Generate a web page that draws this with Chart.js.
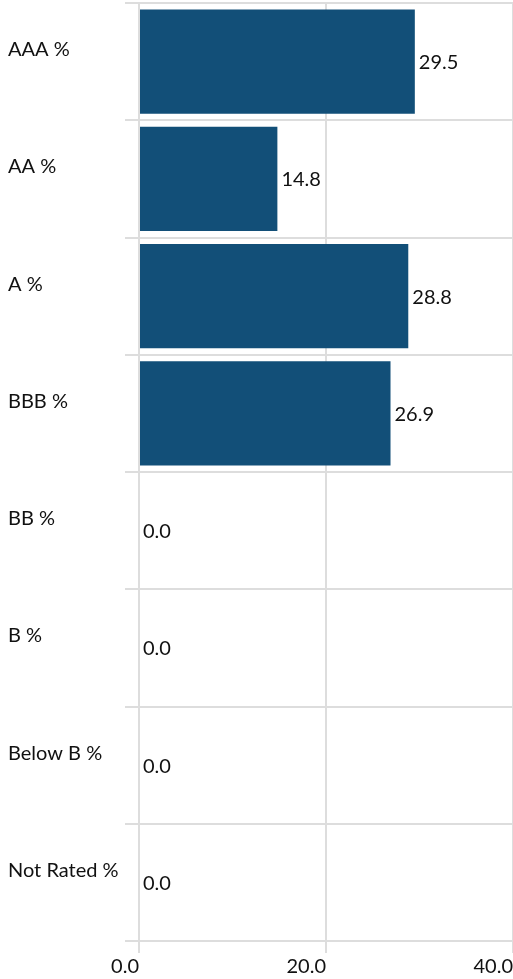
<!DOCTYPE html>
<html lang="en">
<head>
  <meta charset="UTF-8">
  <title>Rating distribution</title>
  <style>
    html, body { margin: 0; padding: 0; background: #fff; }
    .chart-container { position: relative; width: 513px; height: 979px; }
  </style>
</head>
<body>
  <div class="chart-container">
    <canvas id="ratingChart"></canvas>
  </div>

  <script src="https://cdn.jsdelivr.net/npm/chart.js"></script>
  <script>
    const categories = ['AAA %', 'AA %', 'A %', 'BBB %', 'BB %', 'B %', 'Below B %', 'Not Rated %'];
    const values = [29.5, 14.8, 28.8, 26.9, 0.0, 0.0, 0.0, 0.0];
    const xTicks = [0, 20, 40];

    const barColor = '#124f78';
    const gridColor = '#dddddd';
    const textColor = '#111111';
    const fontFamily = "Lato, 'Open Sans', sans-serif";

    // value labels at the end of each bar
    const valueLabels = {
      id: 'valueLabels',
      afterDatasetsDraw(chart) {
        const { ctx } = chart;
        const meta = chart.getDatasetMeta(0);
        ctx.save();
        ctx.font = '20px ' + fontFamily;
        ctx.fillStyle = textColor;
        ctx.textAlign = 'left';
        ctx.textBaseline = 'middle';
        meta.data.forEach((bar, i) => {
          ctx.fillText(values[i].toFixed(1), bar.x + 4, bar.y + 1);
        });
        ctx.restore();
      }
    };

    const ctx = document.getElementById('ratingChart').getContext('2d');
    const ratingChart = new Chart(ctx, {
      type: 'bar',
      data: {
        labels: categories,
        datasets: [{
          data: values,
          backgroundColor: barColor,
          borderWidth: 0,
          barPercentage: 0.89,
          categoryPercentage: 1.0
        }]
      },
      options: {
        indexAxis: 'y',
        responsive: true,
        maintainAspectRatio: false,
        animation: false,
        layout: { padding: { top: 3, left: 8, right: 0, bottom: 0 } },
        plugins: {
          legend: { display: false },
          tooltip: { enabled: false }
        },
        scales: {
          x: {
            min: 0,
            max: 40,
            afterBuildTicks: (scale) => {
              scale.ticks = xTicks.map(v => ({ value: v }));
            },
            afterFit: (scale) => {
              scale.height = 38;
              scale.paddingLeft = 0;
              scale.paddingRight = 0;
            },
            grid: { color: gridColor, tickLength: 12, lineWidth: 2 },
            border: { color: gridColor, width: 2 },
            ticks: {
              align: 'end',
              padding: 2,
              color: textColor,
              font: { size: 20, family: fontFamily },
              callback: (v) => Number(v).toFixed(1)
            }
          },
          y: {
            afterFit: (scale) => {
              scale.width = 131;
              scale.paddingTop = 0;
              scale.paddingBottom = 0;
            },
            grid: { color: gridColor, tickLength: 14, lineWidth: 2 },
            border: { color: gridColor, width: 2 },
            ticks: {
              crossAlign: 'far',
              labelOffset: -12,
              color: textColor,
              font: { size: 20, family: fontFamily }
            }
          }
        }
      },
      plugins: [valueLabels]
    });
  </script>
</body>
</html>
